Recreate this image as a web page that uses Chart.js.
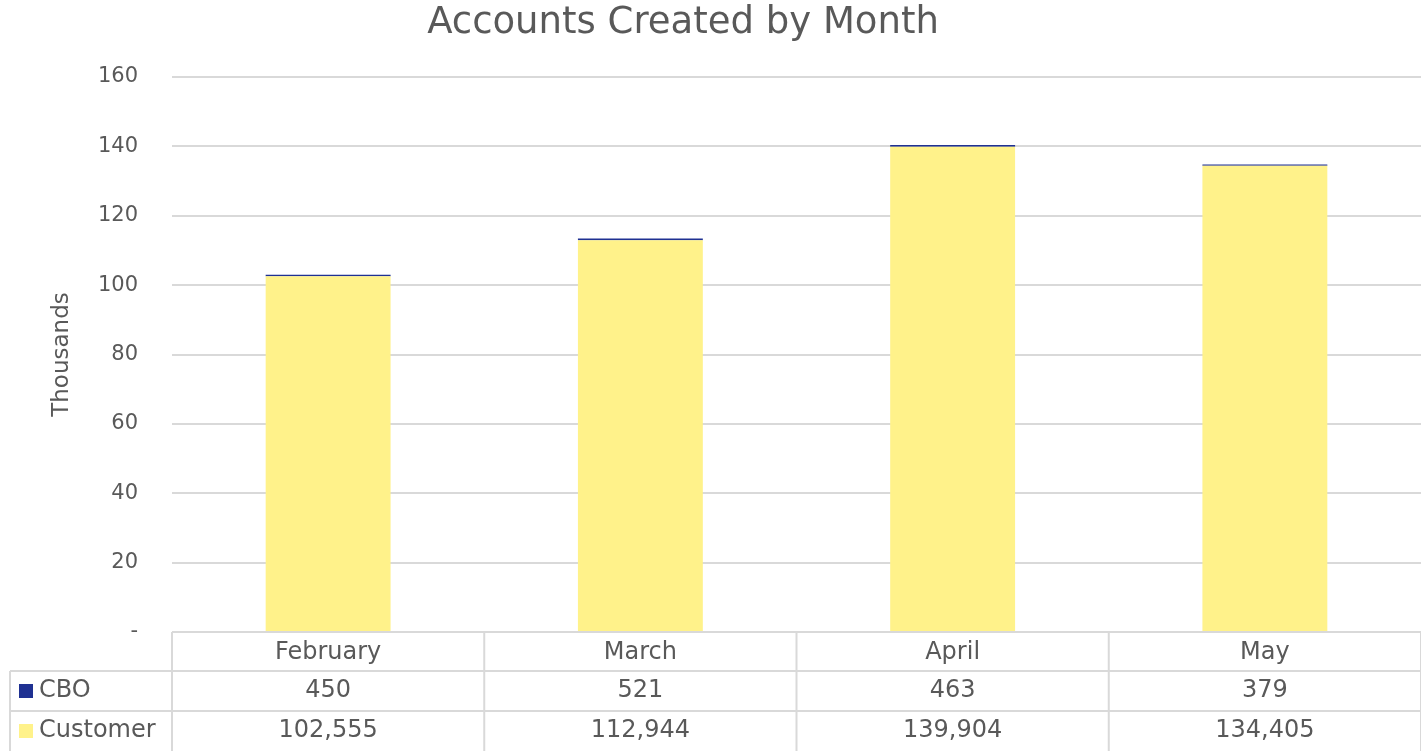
<!DOCTYPE html>
<html>
<head>
<meta charset="utf-8">
<script src="https://cdn.jsdelivr.net/npm/chart.js@4/dist/chart.umd.min.js"></script>
<style>
  html,body{margin:0;padding:0;background:#fff;}
  #wrap{width:1421px;height:751px;}
</style>
</head>
<body>
<div id="wrap"><canvas id="c"></canvas></div>
<script>
/* data */
const months = ['February','March','April','May'];
const cbo = [450, 521, 463, 379];
const customer = [102555, 112944, 139904, 134405];
const chartTitle = 'Accounts Created by Month';

const FONT = '"DejaVu Sans", sans-serif';
const TXT = '#595959';
const LINE = '#d9d9d9';
const YELLOW = '#fff28a';
const BLUE = '#1f3192';

function fmt(v){ return v.toLocaleString('en-US'); }

/* title + data table under the plot */
const tablePlugin = {
  id: 'dataTable',
  afterDraw(chart){
    const ctx = chart.ctx, a = chart.chartArea, x = chart.scales.x;
    const top = a.bottom, r1 = top + 39, r2 = r1 + 40, bot = r2 + 40;
    const left = 10;
    const n = months.length, w = (a.right - a.left) / n;
    ctx.save();
    // title (Excel centres it over the whole chart incl. the table's legend column)
    ctx.fillStyle = TXT; ctx.font = '37px ' + FONT;
    ctx.textAlign = 'center'; ctx.textBaseline = 'middle';
    ctx.fillText(chartTitle, 683, 23);

    ctx.strokeStyle = LINE; ctx.lineWidth = 2;
    ctx.beginPath();
    ctx.moveTo(a.left, top); ctx.lineTo(a.right, top);
    ctx.moveTo(left, r1); ctx.lineTo(a.right, r1);
    ctx.moveTo(left, r2); ctx.lineTo(a.right, r2);
    ctx.moveTo(left, r1); ctx.lineTo(left, bot);
    for(let i=0;i<=n;i++){
      const xx = a.left + i*w;
      ctx.moveTo(xx, top); ctx.lineTo(xx, bot);
    }
    ctx.stroke();

    ctx.fillStyle = TXT; ctx.font = '24px ' + FONT;
    months.forEach((m,i)=>{
      const cx = x.getPixelForValue(i);
      ctx.fillText(m, cx, top + 21);
      ctx.fillText(fmt(cbo[i]), cx, r1 + 20);
      ctx.fillText(fmt(customer[i]), cx, r2 + 20);
    });
    ctx.textAlign = 'left';
    ctx.fillStyle = BLUE; ctx.fillRect(19, r1 + 13, 14, 14);
    ctx.fillStyle = YELLOW; ctx.fillRect(19, r2 + 13, 14, 14);
    ctx.fillStyle = TXT;
    ctx.fillText('CBO', 39, r1 + 20);
    ctx.fillText('Customer', 39, r2 + 20);
    ctx.restore();
  }
};

new Chart(document.getElementById('c'), {
  type: 'bar',
  data: {
    labels: months,
    datasets: [
      { label: 'Customer', data: customer, backgroundColor: YELLOW, stack: 's' },
      { label: 'CBO', data: cbo, backgroundColor: BLUE, stack: 's' }
    ]
  },
  options: {
    responsive: true,
    maintainAspectRatio: false,
    animation: false,
    datasets: { bar: { categoryPercentage: 0.4, barPercentage: 1 } },
    layout: { padding: { left: 0, right: 0, top: 77, bottom: 119 } },
    plugins: {
      legend: { display: false },
      tooltip: { enabled: false },
      title: { display: false }
    },
    scales: {
      x: { stacked: true, display: false },
      y: {
        stacked: true, min: 0, max: 160000,
        afterFit: s => { s.width = 172; },
        border: { display: false },
        grid: { color: LINE, lineWidth: 2, drawTicks: false },
        ticks: {
          stepSize: 20000, color: TXT, padding: 34,
          font: { family: FONT, size: 21 },
          callback: v => v === 0 ? '-' : String(v / 1000)
        },
        title: {
          display: true, text: 'Thousands', color: TXT,
          font: { family: FONT, size: 23 }, padding: { top: 48, bottom: 0 }
        }
      }
    }
  },
  plugins: [tablePlugin]
});
</script>
</body>
</html>
